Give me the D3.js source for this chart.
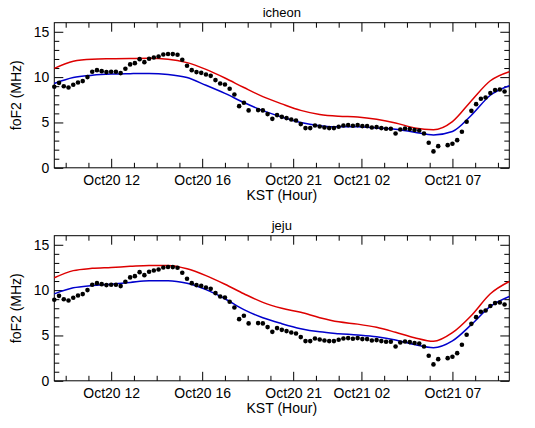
<!DOCTYPE html>
<html><head><meta charset="utf-8">
<script src="https://cdn.jsdelivr.net/npm/d3@7"></script>
<style>body{margin:0;background:#fff} svg{display:block} text{font-family:"Liberation Sans",Arial,Helvetica,sans-serif}</style>
</head><body><svg id="c" width="535" height="428"></svg>
<script>
// ---- data ----
const stations = ["icheon", "jeju"];
const obsHours = [0,0.25,0.5,0.75,1,1.25,1.5,1.75,2,2.25,2.5,2.75,3,3.25,3.5,3.75,4,4.25,4.5,4.75,5,5.25,5.5,5.75,
  6,6.25,6.5,6.75,7,7.25,7.5,7.75,8,8.25,8.5,8.75,9,9.25,9.5,9.75,10,10.25,10.5,10.75,11,11.25,11.5,11.75,
  12,12.25,12.5,12.75,13,13.25,13.5,13.75,14,14.25,14.5,14.75,15,15.25,15.5,15.75,16,16.25,16.5,16.75,17,17.25,17.5,17.75,
  18,18.25,18.5,18.75,19,19.25,19.5,19.75,20,20.25,20.5,20.75,21,21.25,21.5,21.75,22,22.25,22.5,22.75,23,23.25,23.5,23.75];
const obsFoF2 = [8.93,9.37,9.0,8.86,9.15,9.41,9.56,10.0,10.59,10.77,10.66,10.55,10.59,10.59,10.44,10.92,11.4,11.54,11.98,11.65,12.02,12.17,12.28,12.5,
  12.55,12.54,12.46,11.91,11.25,10.77,10.55,10.47,10.29,10.14,9.67,9.30,9.19,8.71,8.09,6.80,7.17,6.33,null,6.36,6.33,5.92,5.40,5.81,
  5.62,5.48,5.33,5.22,4.82,4.38,4.38,4.67,4.56,4.45,4.38,4.38,4.52,4.67,4.71,4.63,4.71,4.60,4.60,4.45,4.49,4.38,4.30,4.30,
  3.79,4.23,4.34,4.27,4.16,4.12,3.79,2.76,1.81,2.39,null,2.50,2.65,3.05,3.97,5.07,6.28,7.02,7.61,7.76,8.24,8.57,8.64,8.42];
const modelHours = [0,1,2,3,4,5,6,7,8,9,10,11,12,13,14,15,16,17,18,19,20,21,22,23,24];
const icheonRed  = [10.96,11.75,11.97,12.02,12.05,12.07,11.98,11.6,10.85,9.9,8.85,7.85,7.05,6.33,5.88,5.68,5.6,5.35,4.95,4.4,4.2,5.1,7.4,9.6,10.6];
const icheonBlue = [9.3,9.95,10.2,10.33,10.38,10.41,10.3,9.95,9.1,8.2,7.2,6.3,5.6,5.0,4.65,4.52,4.54,4.4,4.25,3.93,3.62,4.0,5.8,8.0,9.05];
const jejuRed    = [11.36,12.15,12.4,12.5,12.62,12.72,12.72,12.35,11.6,10.65,9.6,8.65,8.0,7.55,6.96,6.5,6.25,5.9,5.35,4.75,4.35,5.3,7.2,9.6,10.95];
const jejuBlue   = [9.59,10.25,10.5,10.65,10.85,11.03,11.04,10.75,10.05,9.05,7.85,6.95,6.3,5.75,5.4,5.2,5.05,4.85,4.5,4.0,3.65,4.4,6.2,8.2,9.3];
const modelRed = [icheonRed, jejuRed];
const modelBlue = [icheonBlue, jejuBlue];
const xMajorTicks = [3.0, 7.8, 12.6, 16.2, 21.0];
const xMajorLabels = ["Oct20 12", "Oct20 16", "Oct20 21", "Oct21 02", "Oct21 07"];
const xMinorTicks = [0.6, 1.8, 4.2, 5.4, 6.6, 9.0, 10.2, 11.4, 13.8, 15.0, 17.4, 18.6, 19.8, 22.2, 23.4];
const yMajorTicks = [0, 5, 10, 15];
const yMinorTicks = [1, 2, 3, 4, 6, 7, 8, 9, 11, 12, 13, 14];
const xLabel = "KST (Hour)";
const yLabel = "foF2 (MHz)";

// ---- layout ----
const svg = d3.select("#c");
svg.append("rect").attr("width", 535).attr("height", 428).attr("fill", "#fff");
const L = 54.3, R = 509.3, W = R - L;
const panelTops = [22.7, 235.7], H = 145.1;
const FONT = "'Liberation Sans',Arial,Helvetica,sans-serif";

const x = d3.scaleLinear().domain([0, 24]).range([0, W]);
const y = d3.scaleLinear().domain([0, 16]).range([H, 0]);

function styleAxis(sel) {
  sel.select(".domain").remove();
  sel.attr("font-family", FONT).attr("font-size", 14);
  sel.selectAll(".tick line").attr("stroke", "#000").attr("stroke-width", 1);
  sel.selectAll(".tick text").attr("fill", "#000");
}

stations.forEach((name, p) => {
  const g = svg.append("g").attr("transform", `translate(${L},${panelTops[p]})`);

  // axes (ticks inward, mirrored)
  g.append("g").attr("transform", `translate(0,${H})`)
    .call(d3.axisBottom(x).tickValues(xMajorTicks).tickSize(-9).tickPadding(7.5).tickFormat((d, i) => xMajorLabels[i])).call(styleAxis);
  g.append("g").attr("transform", `translate(0,${H})`)
    .call(d3.axisBottom(x).tickValues(xMinorTicks).tickSize(-5).tickFormat("")).call(styleAxis);
  g.append("g").call(d3.axisTop(x).tickValues(xMajorTicks).tickSize(-9).tickFormat("")).call(styleAxis);
  g.append("g").call(d3.axisTop(x).tickValues(xMinorTicks).tickSize(-5).tickFormat("")).call(styleAxis);
  g.append("g").call(d3.axisLeft(y).tickValues(yMajorTicks).tickSize(-9).tickPadding(5).tickFormat(d3.format("d"))).call(styleAxis);
  g.append("g").call(d3.axisLeft(y).tickValues(yMinorTicks).tickSize(-5).tickFormat("")).call(styleAxis);
  g.append("g").attr("transform", `translate(${W},0)`).call(d3.axisRight(y).tickValues(yMajorTicks).tickSize(-9).tickFormat("")).call(styleAxis);
  g.append("g").attr("transform", `translate(${W},0)`).call(d3.axisRight(y).tickValues(yMinorTicks).tickSize(-5).tickFormat("")).call(styleAxis);

  g.append("rect").attr("x", 0).attr("y", 0).attr("width", W).attr("height", H)
    .attr("fill", "none").attr("stroke", "#000").attr("stroke-width", 1);

  // model lines
  const line = d3.line().x((d, i) => x(modelHours[i])).y(d => y(d)).curve(d3.curveMonotoneX);
  g.append("path").datum(modelRed[p]).attr("d", line).attr("fill", "none").attr("stroke", "#dd0000").attr("stroke-width", 1.5);
  g.append("path").datum(modelBlue[p]).attr("d", line).attr("fill", "none").attr("stroke", "#0000cc").attr("stroke-width", 1.5);

  // observations
  g.selectAll("circle.obs").data(obsFoF2.map((v, i) => ({t: obsHours[i], v})).filter(d => d.v !== null))
    .enter().append("circle").attr("class", "obs")
    .attr("cx", d => x(d.t)).attr("cy", d => y(d.v)).attr("r", 2.3).attr("fill", "#000");

  // title
  g.append("text").attr("x", W / 2).attr("y", -6).attr("text-anchor", "middle")
    .attr("font-size", 13).attr("fill", "#000").text(name);
  // x label
  g.append("text").attr("x", W / 2).attr("y", H + 32).attr("text-anchor", "middle")
    .attr("font-size", 14).attr("fill", "#000").text(xLabel);
  // y label
  g.append("text").attr("transform", `translate(${16 - L + 5},${H / 2}) rotate(-90)`)
    .attr("text-anchor", "middle").attr("font-size", 14).attr("fill", "#000").text(yLabel);
});
</script></body></html>
